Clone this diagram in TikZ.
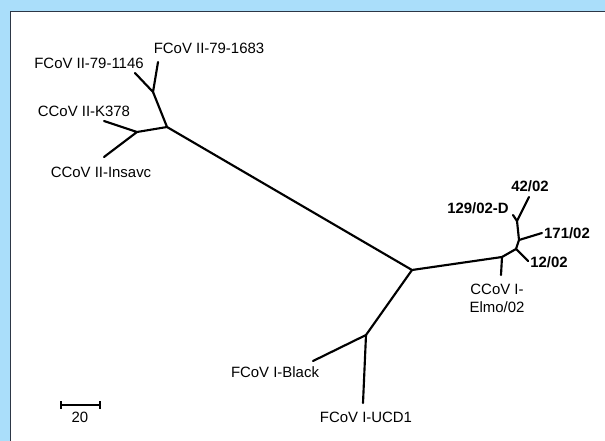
\documentclass[tikz,border=0pt]{standalone}
\usepackage{fontspec}
\setmainfont{Liberation Sans}
\definecolor{bgblue}{RGB}{170,222,250}
\definecolor{frameline}{RGB}{45,55,70}
\begin{document}
\begin{tikzpicture}[x=0.75pt,y=-0.75pt,
  branch/.style={line width=1.6pt, line cap=round},
  lbl/.style={font=\fontsize{11.2}{13.5}\selectfont, inner sep=0pt, align=center},
  blbl/.style={font=\fontsize{11.2}{13.5}\selectfont\bfseries, inner sep=0pt}]
\useasboundingbox (0,0) rectangle (605,441);
\fill[bgblue] (0,0) rectangle (605,441);
\fill[white] (10.5,11.5) rectangle (605,441);
\draw[frameline, line width=1.1pt] (10.5,441) -- (10.5,11.5) -- (605,11.5);
% internal coordinates
\coordinate (A) at (153,92);
\coordinate (B) at (167,127);
\coordinate (C) at (137,132);
\coordinate (D) at (412,270);
\coordinate (E) at (502,257);
\coordinate (F) at (516,249);
\coordinate (G) at (519,240);
\coordinate (H) at (517,221);
\coordinate (I) at (366,335);
% leaf ends
\coordinate (l1146) at (135,73);
\coordinate (l1683) at (158,62);
\coordinate (lK378) at (104,121);
\coordinate (lIns) at (104,157);
\coordinate (lElmo) at (501,275);
\coordinate (l1202) at (528,261);
\coordinate (l171) at (542,233);
\coordinate (l129) at (513,215);
\coordinate (l42) at (529,197);
\coordinate (lBlack) at (313,361);
\coordinate (lUCD) at (363,403);
% branches
\draw[branch] (l1146) -- (A) -- (l1683);
\draw[branch] (A) -- (B) -- (C);
\draw[branch] (lK378) -- (C) -- (lIns);
\draw[branch] (B) -- (D) -- (E) -- (F) -- (G) -- (H);
\draw[branch] (E) -- (lElmo);
\draw[branch] (F) -- (l1202);
\draw[branch] (G) -- (l171);
\draw[branch] (l129) -- (H) -- (l42);
\draw[branch] (D) -- (I) -- (lBlack);
\draw[branch] (I) -- (lUCD);
% labels
\node[lbl] (t1683) at (209,48) {FCoV II-79-1683};
\node[lbl] (t1146) at (89,63) {FCoV II-79-1146};
\node[lbl] (tK378) at (84,111) {CCoV II-K378};
\node[lbl] (tIns) at (101,172) {CCoV II-Insavc};
\node[blbl] (t42) at (530,186) {42/02};
\node[blbl] (t129) at (478,208) {129/02-D};
\node[blbl] (t171) at (567,233) {171/02};
\node[blbl] (t12) at (549,262) {12/02};
\node[lbl] (tElmo) at (497,298) {CCoV I-\\Elmo/02};
\node[lbl] (tBlack) at (275,372) {FCoV I-Black};
\node[lbl] (tUCD) at (366,417) {FCoV I-UCD1};
% scale bar
\coordinate (s1) at (61,405);
\coordinate (s2) at (100,405);
\draw[line width=0.9pt] (s1) -- (s2);
\draw[line width=0.9pt] ([yshift=3]s1) -- ([yshift=-3]s1);
\draw[line width=0.9pt] ([yshift=3]s2) -- ([yshift=-3]s2);
\node[lbl] (t20) at (80,417) {20};
\end{tikzpicture}
\end{document}
